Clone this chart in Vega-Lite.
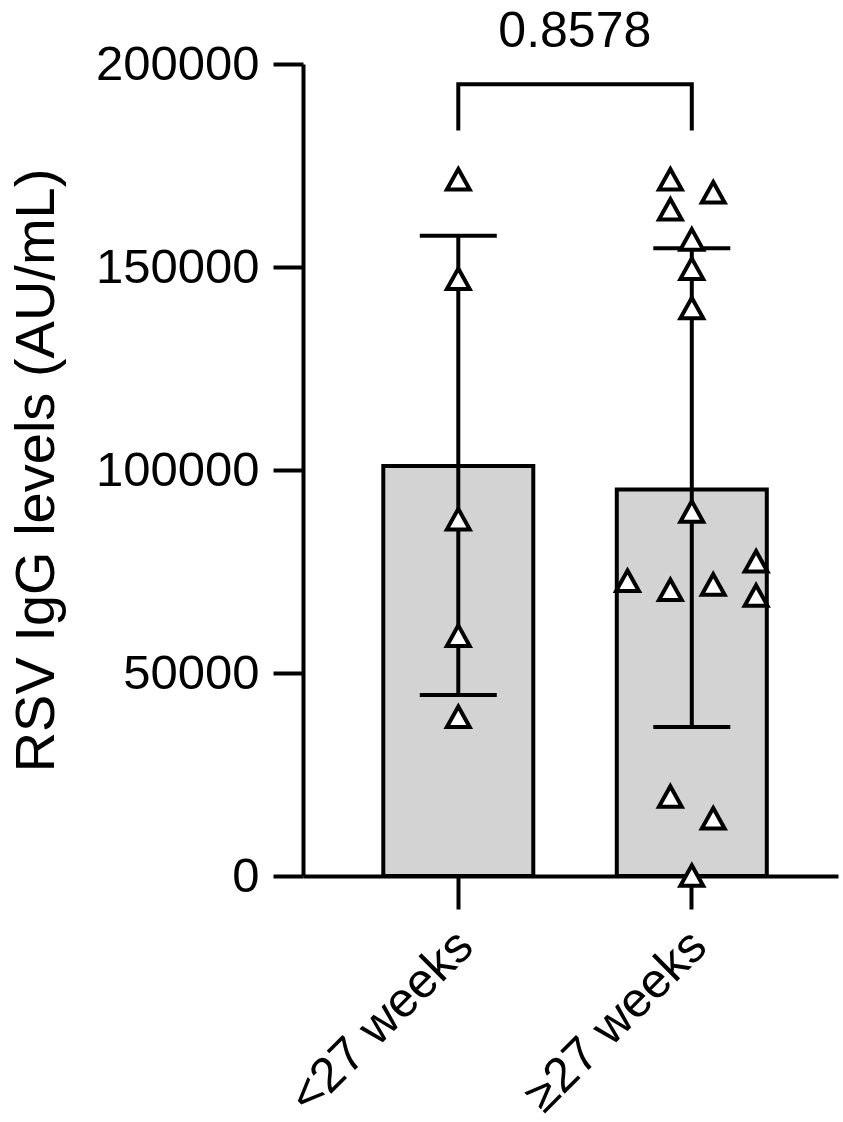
{
  "$schema": "https://vega.github.io/schema/vega-lite/v6.json",
  "width": 535,
  "height": 812,
  "autosize": {"type": "none"},
  "padding": {"left": 303, "top": 64, "right": 5, "bottom": 246},
  "background": "white",
  "config": {
    "view": {"stroke": null},
    "font": "Liberation Sans",
    "axis": {
      "domainColor": "black",
      "domainWidth": 4,
      "tickColor": "black",
      "tickWidth": 4,
      "labelColor": "black",
      "titleColor": "black",
      "labelFont": "Liberation Sans",
      "titleFont": "Liberation Sans",
      "grid": false
    }
  },
  "resolve": {"scale": {"xOffset": "independent"}},
  "datasets": {
    "points": [
      {"group": "<27 weeks", "value": 171600, "j": 0},
      {"group": "<27 weeks", "value": 147100, "j": 0},
      {"group": "<27 weeks", "value": 87900, "j": 0},
      {"group": "<27 weeks", "value": 59200, "j": 0},
      {"group": "<27 weeks", "value": 39200, "j": 0},
      {"group": "≥27 weeks", "value": 171600, "j": -1},
      {"group": "≥27 weeks", "value": 168400, "j": 1},
      {"group": "≥27 weeks", "value": 164200, "j": -1},
      {"group": "≥27 weeks", "value": 156800, "j": 0},
      {"group": "≥27 weeks", "value": 149600, "j": 0},
      {"group": "≥27 weeks", "value": 139900, "j": 0},
      {"group": "≥27 weeks", "value": 89800, "j": 0},
      {"group": "≥27 weeks", "value": 77500, "j": 3},
      {"group": "≥27 weeks", "value": 72700, "j": -3},
      {"group": "≥27 weeks", "value": 70500, "j": -1},
      {"group": "≥27 weeks", "value": 71800, "j": 1},
      {"group": "≥27 weeks", "value": 69100, "j": 3},
      {"group": "≥27 weeks", "value": 19600, "j": -1},
      {"group": "≥27 weeks", "value": 14200, "j": 1},
      {"group": "≥27 weeks", "value": 100, "j": 0}
    ],
    "summary": [
      {"group": "<27 weeks", "mean": 101000, "lo": 44600, "hi": 157700},
      {"group": "≥27 weeks", "mean": 95200, "lo": 36700, "hi": 154600}
    ],
    "bracket": [
      {"group": "<27 weeks", "y": 183600, "o": 1},
      {"group": "<27 weeks", "y": 195000, "o": 2},
      {"group": "≥27 weeks", "y": 195000, "o": 3},
      {"group": "≥27 weeks", "y": 183600, "o": 4}
    ],
    "pvalue": [
      {"group": "<27 weeks", "y": 204200, "label": "0.8578"}
    ]
  },
  "layer": [
    {
      "data": {"name": "summary"},
      "mark": {"type": "bar", "fill": "#d3d3d3", "stroke": "black", "strokeWidth": 4, "width": {"band": 1}},
      "encoding": {
        "x": {
          "field": "group",
          "type": "nominal",
          "scale": {"domain": ["<27 weeks", "≥27 weeks"], "paddingInner": 0.3576, "paddingOuter": 0.3244, "align": 0.53},
          "axis": {
            "title": null,
            "labelAngle": -45,
            "labelAlign": "right",
            "labelBaseline": "top",
            "labelFontSize": 49,
            "labelLimit": 0,
            "tickSize": 33,
            "labelPadding": 12,
            "labelOffset": -10
          }
        },
        "y": {
          "field": "mean",
          "type": "quantitative",
          "scale": {"domain": [0, 200000], "nice": false},
          "axis": {
            "title": "RSV IgG levels (AU/mL)",
            "titleFontSize": 56,
            "titleFontWeight": "normal",
            "titlePadding": 38,
            "values": [0, 50000, 100000, 150000, 200000],
            "format": "d",
            "labelFontSize": 49,
            "tickSize": 30,
            "labelPadding": 14,
            "labelFlush": false,
            "labelOverlap": false,
            "labelBound": false
          }
        }
      }
    },
    {
      "data": {"name": "summary"},
      "mark": {"type": "rule", "color": "black", "strokeWidth": 4},
      "encoding": {
        "x": {"field": "group", "type": "nominal"},
        "y": {"field": "lo", "type": "quantitative"},
        "y2": {"field": "hi"}
      }
    },
    {
      "data": {"name": "summary"},
      "mark": {"type": "tick", "color": "black", "size": 77, "thickness": 4, "opacity": 1},
      "encoding": {
        "x": {"field": "group", "type": "nominal"},
        "y": {"field": "hi", "type": "quantitative"}
      }
    },
    {
      "data": {"name": "summary"},
      "mark": {"type": "tick", "color": "black", "size": 77, "thickness": 4, "opacity": 1},
      "encoding": {
        "x": {"field": "group", "type": "nominal"},
        "y": {"field": "lo", "type": "quantitative"}
      }
    },
    {
      "data": {"name": "bracket"},
      "mark": {"type": "line", "color": "black", "strokeWidth": 4, "strokeCap": "butt", "strokeJoin": "miter"},
      "encoding": {
        "x": {"field": "group", "type": "nominal"},
        "y": {"field": "y", "type": "quantitative"},
        "order": {"field": "o", "type": "quantitative"}
      }
    },
    {
      "data": {"name": "pvalue"},
      "mark": {"type": "text", "font": "Liberation Sans", "fontSize": 50, "color": "black", "align": "center", "baseline": "alphabetic", "dx": 116.5},
      "encoding": {
        "x": {"field": "group", "type": "nominal"},
        "y": {"field": "y", "type": "quantitative"},
        "text": {"field": "label", "type": "nominal"}
      }
    },
    {
      "data": {"name": "points"},
      "mark": {"type": "point", "shape": "M0,-0.9L1,0.9L-1,0.9Z", "filled": true, "fill": "white", "stroke": "black", "strokeWidth": 4, "strokeJoin": "miter", "size": 520, "opacity": 1},
      "encoding": {
        "x": {"field": "group", "type": "nominal"},
        "xOffset": {"field": "j", "type": "quantitative", "scale": {"domain": [-3.5, 3.5]}},
        "y": {"field": "value", "type": "quantitative"}
      }
    }
  ]
}
